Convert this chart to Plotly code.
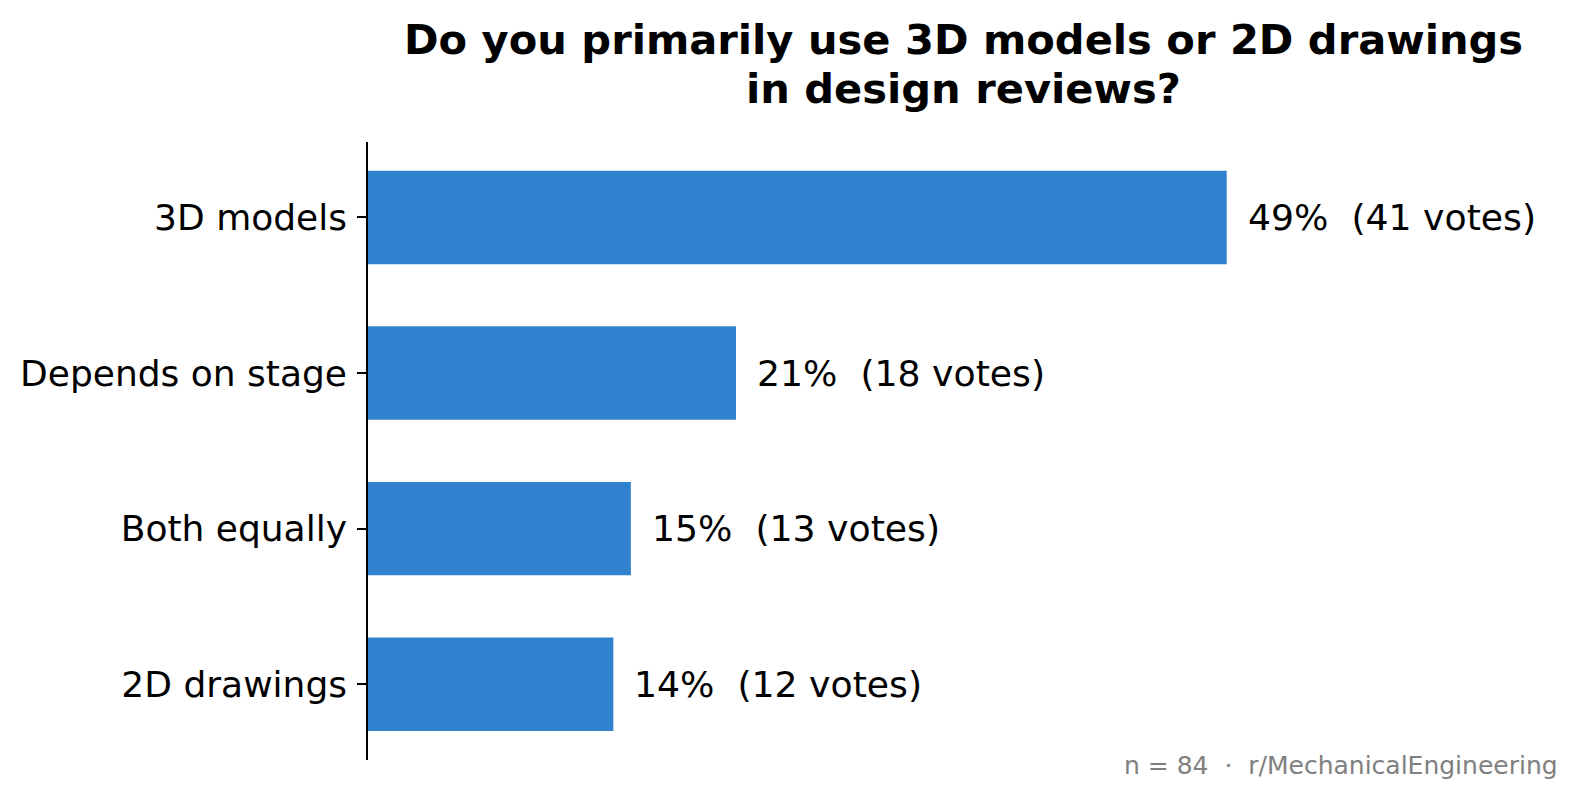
import plotly.graph_objects as go

categories = ["3D models", "Depends on stage", "Both equally", "2D drawings"]
percents = [49, 21, 15, 14]
votes = [41, 18, 13, 12]
title_lines = ["Do you primarily use 3D models or 2D drawings", "in design reviews?"]
footer = "n = 84  ·  r/MechanicalEngineering"

W, H = 1580, 799
L, R, T, B = 368, 20, 142, 39
FONT = "DejaVu Sans"
BAR = "#3182ce"
pw = W - L - R
ph = H - T - B
XMAX = 49 * pw / (1226.7 - L)


def px_to_paper_x(px):
    return (px - L) / pw


def px_to_paper_y(py):
    return (H - B - py) / ph


fig = go.Figure(go.Bar(
    x=percents, y=categories, orientation="h",
    marker=dict(color=BAR, line=dict(width=0)),
    width=0.6, hoverinfo="skip",
))

for c, p, v in zip(categories, percents, votes):
    fig.add_annotation(x=p, y=c, xref="x", yref="y", text=f"{p}%  ({v} votes)",
                       showarrow=False, xanchor="left", yanchor="middle", xshift=19,
                       font=dict(family=FONT, size=36.2, color="black"))

for line, cy in zip(title_lines, [39.5, 89]):
    fig.add_annotation(x=px_to_paper_x(963.5), y=px_to_paper_y(cy), xref="paper", yref="paper",
                       text=f"<b>{line}</b>", showarrow=False, xanchor="center", yanchor="middle",
                       font=dict(family=FONT, size=41.6, color="black"))

fig.add_annotation(x=px_to_paper_x(1560), y=px_to_paper_y(765), xref="paper", yref="paper",
                   text=footer, showarrow=False, xanchor="right", yanchor="middle",
                   font=dict(family=FONT, size=25, color="#808080"))

fig.update_layout(
    width=W, height=H,
    margin=dict(l=L, r=R, t=T, b=B, pad=0),
    paper_bgcolor="white", plot_bgcolor="white",
    showlegend=False,
    xaxis=dict(visible=False, range=[0, XMAX], fixedrange=True),
    yaxis=dict(range=[3.487, -0.485], showline=True, linecolor="black", linewidth=1.6,
               ticks="outside", ticklen=9, tickwidth=1.5, tickcolor="black",
               showgrid=False, zeroline=False, ticklabelstandoff=3,
               tickfont=dict(family=FONT, size=36, color="black")),
)

fig.write_html("out.html")
